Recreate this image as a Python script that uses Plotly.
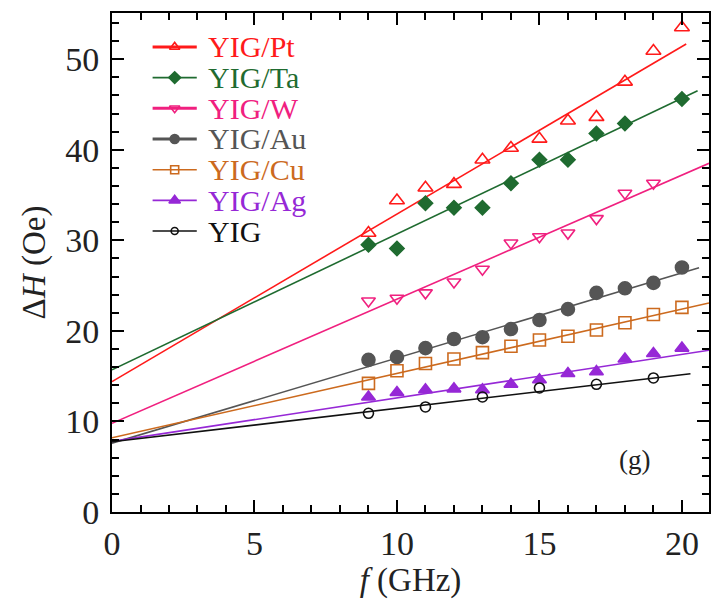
import plotly.graph_objects as go

# Linewidth ΔH versus frequency f for YIG and YIG/NM bilayers
pt_f = [9, 10, 11, 12, 13, 14, 15, 16, 17, 18, 19, 20]
pt_dh = [30.8, 34.4, 35.8, 36.2, 38.9, 40.2, 41.2, 43.2, 43.6, 47.5, 50.9, 53.5]

ta_f = [9, 10, 11, 12, 13, 14, 15, 16, 17, 18, 20]
ta_dh = [29.5, 29.1, 34.1, 33.6, 33.6, 36.3, 38.9, 38.9, 41.8, 42.9, 45.6]

w_f = [9, 10, 11, 12, 13, 14, 15, 16, 17, 18, 19]
w_dh = [23.3, 23.6, 24.2, 25.4, 26.8, 29.7, 30.4, 30.8, 32.4, 35.2, 36.3]

au_f = [9, 10, 11, 12, 13, 14, 15, 16, 17, 18, 19, 20]
au_dh = [16.8, 17.1, 18.1, 19.1, 19.3, 20.2, 21.2, 22.4, 24.2, 24.7, 25.3, 27.0]

cu_f = [9, 10, 11, 12, 13, 14, 15, 16, 17, 18, 19, 20]
cu_dh = [14.2, 15.6, 16.4, 16.9, 17.6, 18.3, 19.0, 19.4, 20.1, 20.9, 21.8, 22.6]

ag_f = [9, 10, 11, 12, 13, 14, 15, 16, 17, 18, 19, 20]
ag_dh = [12.7, 13.2, 13.5, 13.6, 13.5, 14.1, 14.6, 15.3, 15.5, 16.9, 17.5, 18.1]

yig_f = [9, 11, 13, 15, 17, 19]
yig_dh = [10.9, 11.6, 12.7, 13.7, 14.1, 14.8]

# Linear fits ΔH = ΔH0 + slope * f, drawn from f = 0 to fit_end
names = ["YIG/Pt", "YIG/Ta", "YIG/W", "YIG/Au", "YIG/Cu", "YIG/Ag", "YIG"]
fit_dh0 = [14.4, 15.7, 9.8, 7.6, 8.2, 7.8, 7.75]
fit_slope = [1.85, 1.50, 1.37, 0.94, 0.71, 0.48, 0.37]
fit_end = [20.15, 20.55, 20.95, 20.6, 20.95, 20.95, 20.3]

x_tick_vals = [0, 5, 10, 15, 20]
y_tick_vals = [0, 10, 20, 30, 40, 50]

colors = ["#ff1a1a", "#1f6b30", "#f0207f", "#555555", "#cc6a1e", "#9628d6", "#111111"]
symbols = ["triangle-up-open", "diamond", "triangle-down-open", "circle",
           "square-open", "triangle-up", "circle-open"]
sizes = [13, 11, 12, 13, 12, 12, 10]
legend_sizes = [9, 9, 9, 9, 8, 10, 7]
legend_widths = [3, 1.6, 3, 3.2, 1.6, 1.6, 1.6]

series = [(pt_f, pt_dh), (ta_f, ta_dh), (w_f, w_dh), (au_f, au_dh),
          (cu_f, cu_dh), (ag_f, ag_dh), (yig_f, yig_dh)]

# Key placement (fractions of the plotting area)
KEY_X0, KEY_X1, KEY_TEXT_X = 0.068, 0.142, 0.158
KEY_TOP, KEY_STEP = 0.932, 0.0615

fig = go.Figure()

for i, (fx, fy) in enumerate(series):
    c = colors[i]
    # fitted line
    fig.add_trace(go.Scatter(
        x=[0, fit_end[i]],
        y=[fit_dh0[i], fit_dh0[i] + fit_slope[i] * fit_end[i]],
        mode="lines", line=dict(color=c, width=1.6),
        showlegend=False, hoverinfo="skip"))
    # measured points
    fig.add_trace(go.Scatter(
        x=fx, y=fy, mode="markers", name=names[i],
        marker=dict(symbol=symbols[i], size=sizes[i], color=c,
                    line=dict(color=c, width=1.6)),
        showlegend=False))

    # key entry: line sample, symbol and coloured label
    ky = KEY_TOP - i * KEY_STEP
    fig.add_trace(go.Scatter(
        x=[KEY_X0, (KEY_X0 + KEY_X1) / 2, KEY_X1], y=[ky, ky, ky],
        xaxis="x2", yaxis="y2", mode="lines",
        line=dict(color=c, width=legend_widths[i]),
        showlegend=False, hoverinfo="skip"))
    fig.add_trace(go.Scatter(
        x=[(KEY_X0 + KEY_X1) / 2], y=[ky],
        xaxis="x2", yaxis="y2", mode="markers",
        marker=dict(symbol=symbols[i], size=legend_sizes[i], color=c,
                    line=dict(color=c, width=1.6)),
        showlegend=False, hoverinfo="skip"))
    fig.add_annotation(x=KEY_TEXT_X, y=ky, xref="paper", yref="paper",
                       xanchor="left", yanchor="middle", showarrow=False,
                       text=names[i],
                       font=dict(family="Liberation Serif", size=30, color=c))

axis_common = dict(
    showline=True, linecolor="black", linewidth=2,
    ticks="inside", ticklen=12, tickwidth=2, tickcolor="black",
    mirror="allticks", showgrid=False, zeroline=False,
    tickfont=dict(family="Liberation Serif", size=34, color="#222222"),
)

fig.update_layout(
    xaxis=dict(
        range=[0, 20.95], tickvals=x_tick_vals,
        minor=dict(dtick=1, ticks="inside", ticklen=7, tickwidth=2, tickcolor="black"),
        title=dict(text="<i>f</i> (GHz)", standoff=6,
                   font=dict(family="Liberation Serif", size=33, color="#222222")),
        **axis_common),
    yaxis=dict(
        range=[0, 55.1], tickvals=y_tick_vals, ticklabelstandoff=4,
        minor=dict(dtick=2, ticks="inside", ticklen=7, tickwidth=2, tickcolor="black"),
        title=dict(text="Δ<i>H</i> (Oe)", standoff=10,
                   font=dict(family="Liberation Serif", size=33, color="#222222")),
        **axis_common),
    xaxis2=dict(range=[0, 1], overlaying="x", visible=False, fixedrange=True),
    yaxis2=dict(range=[0, 1], overlaying="y", visible=False, fixedrange=True),
)

fig.add_annotation(x=0.905, y=0.07, xref="paper", yref="paper",
                   text="(g)", showarrow=False,
                   font=dict(family="Liberation Serif", size=27, color="#222222"))

fig.update_layout(
    width=712, height=600,
    margin=dict(l=112, r=1, t=13, b=88),
    plot_bgcolor="white", paper_bgcolor="white",
    showlegend=False,
)

fig.write_html("out.html")
